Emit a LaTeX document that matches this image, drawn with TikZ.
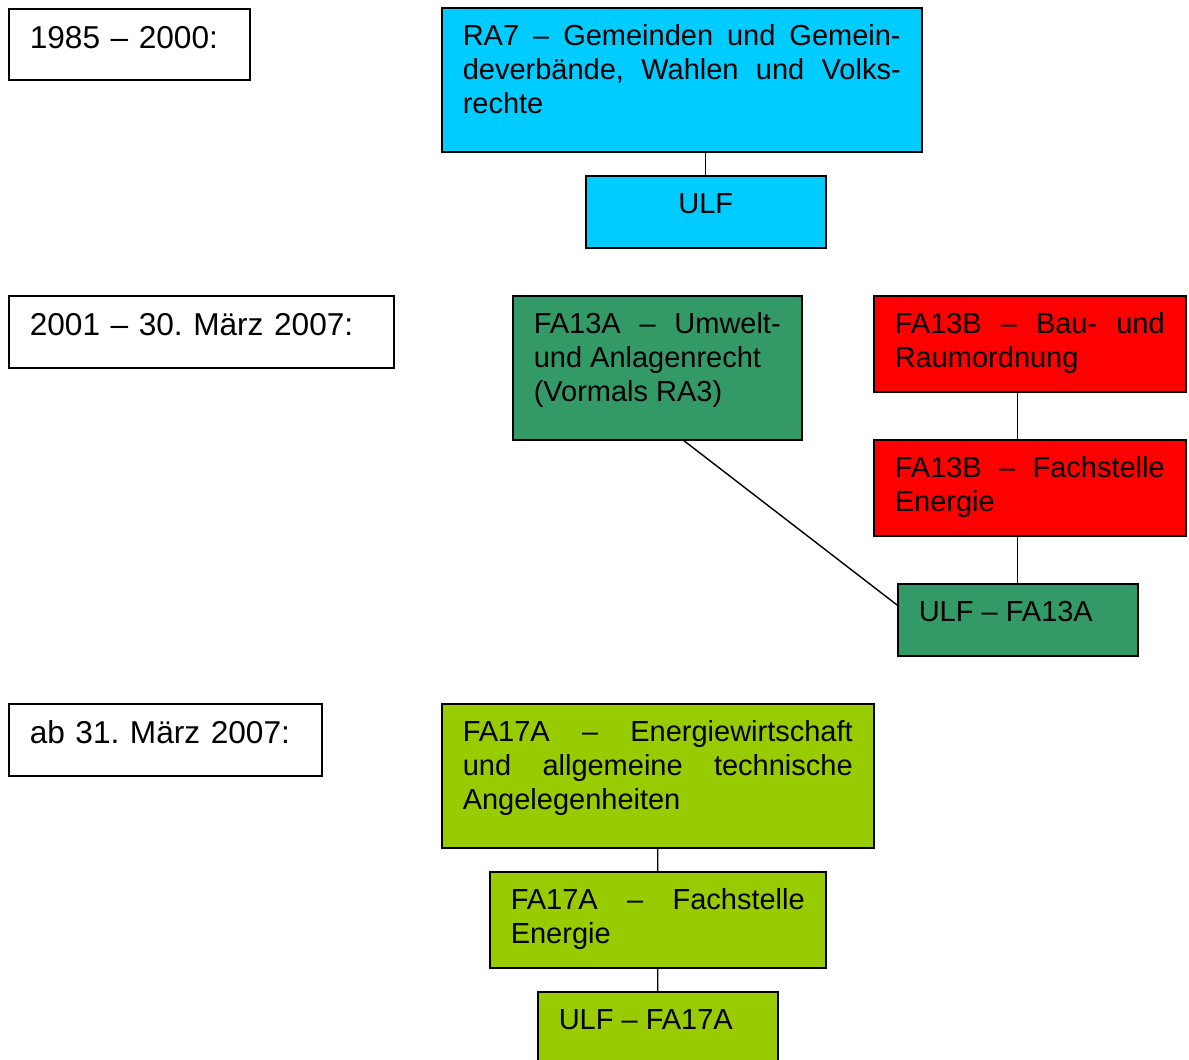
\documentclass[tikz,border=0pt]{standalone}
\usepackage{fontspec}
\setmainfont{Liberation Sans}
\usepackage{tikz}
\usepackage{xcolor}
\frenchspacing
\definecolor{RAcyan}{HTML}{00CCFF}
\definecolor{FAgreen}{HTML}{339966}
\definecolor{FAred}{HTML}{FF0000}
\definecolor{FAlime}{HTML}{99CC00}
\tikzset{OrgChart/.style = {% boxes of the org chart
     base/.style = {rectangle, draw, line width=0.9pt, anchor=north west,
                    inner xsep=4.2mm, inner ysep=0pt, text height=7.6mm,
                    align=justify, font=\fontsize{16.5}{19.35}\selectfont},
   period/.style = {base, fill=white, text height=8mm, align=left,
                    font=\fontsize{18}{21}\selectfont},
     tall/.style = {base, text width=##1, text depth=21.2mm},
   middle/.style = {base, text width=##1, text depth=11.6mm},
    small/.style = {base, text width=39.6mm, text depth=6.8mm},
     link/.style = {line width=0.8pt}}
        }

\begin{document}
\begin{tikzpicture}[OrgChart, x=0.02cm, y=-0.02cm]
\path[use as bounding box, fill=white] (0,0) rectangle (1189,1059);

% periods
\node (per1) [period, text width=39.8mm, text depth=6.2mm] at (8,8)   {1985 – 2000:};
\node (per2) [period, text width=68.6mm, text depth=6.4mm] at (8,295) {2001 – 30. März 2007:};
\node (per3) [period, text width=54.2mm, text depth=6.4mm] at (8,703) {ab 31. März 2007:};

% nodes
\node (ra7)     [tall=87.6mm, fill=RAcyan]     at (441,7)
  {RA7 – Gemeinden und Gemein-\linebreak deverbände, Wahlen und Volks-\linebreak rechte};
\node (ulf)     [small, fill=RAcyan, align=center] at (585,175) {ULF};

\node (fa13a)   [tall=49.4mm, fill=FAgreen]    at (512,295)
  {FA13A – Umwelt-\linebreak und Anlagenrecht\newline (Vormals RA3)};
\node (fa13b)   [middle=54mm, fill=FAred]      at (873,295)
  {FA13B – Bau- und\linebreak Raumordnung};
\node (fa13bfs) [middle=54mm, fill=FAred]      at (873,439)
  {FA13B – Fachstelle\linebreak Energie};
\node (ulf13a)  [small, fill=FAgreen]          at (897,583) {ULF – FA13A};

\node (fa17a)   [tall=78mm, fill=FAlime]       at (441,703)
  {FA17A – Energiewirtschaft\linebreak und allgemeine technische\linebreak Angelegenheiten};
\node (fa17afs) [middle=58.8mm, fill=FAlime]   at (489,871)
  {FA17A – Fachstelle\linebreak Energie};
\node (ulf17a)  [small, fill=FAlime]           at (537,991) {ULF – FA17A};

% links
\draw [link] (ulf.north) -- (ulf.north |- ra7.south);
\draw [link] (fa13a.-70) -- (ulf13a.173);
\draw [link] (fa13b.south -| ulf13a.north) -- (fa13bfs.north -| ulf13a.north);
\draw [link] (fa13bfs.south -| ulf13a.north) -- (ulf13a.north);
\draw [link] (fa17a.south) -- (fa17afs.north);
\draw [link] (fa17afs.south) -- (ulf17a.north);
\end{tikzpicture}
\end{document}
